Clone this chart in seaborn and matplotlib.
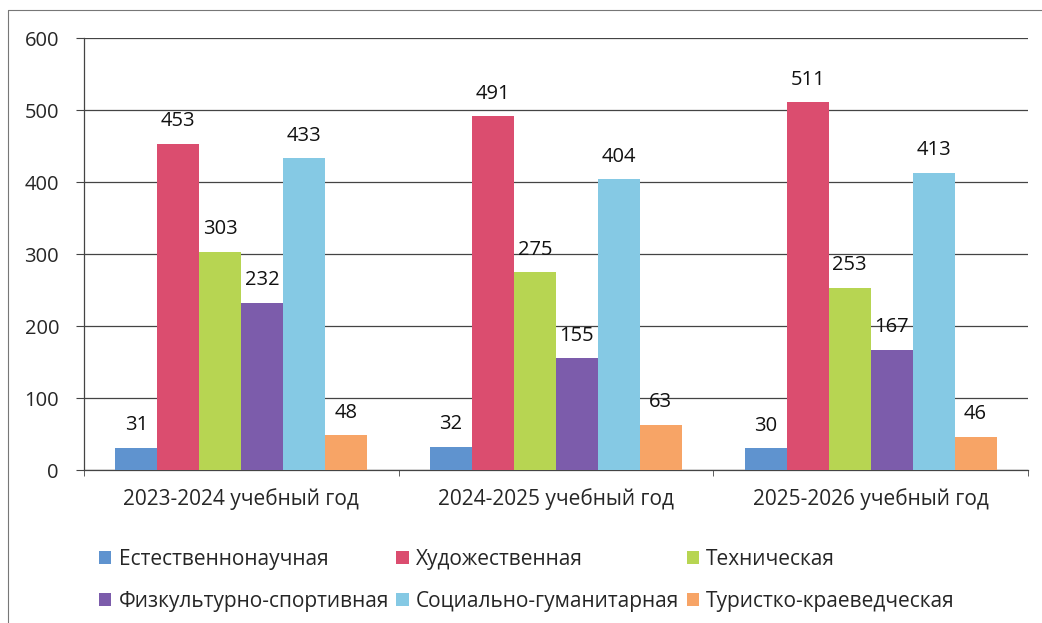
import seaborn as sns
import pandas as pd
import matplotlib.pyplot as plt
from matplotlib.patches import Patch
from matplotlib.lines import Line2D

years = ['2023-2024 учебный год', '2024-2025 учебный год', '2025-2026 учебный год']
directions = ['Естественнонаучная', 'Художественная', 'Техническая',
              'Физкультурно-спортивная', 'Социально-гуманитарная', 'Туристко-краеведческая']
estestv = [31, 32, 30]
hudozh = [453, 491, 511]
tehn = [303, 275, 253]
fizkult = [232, 155, 167]
social = [433, 404, 413]
turist = [48, 63, 46]
colors = ['#5f93cf', '#db4d6f', '#b7d552', '#7c5cab', '#85c9e4', '#f7a466']

series = [estestv, hudozh, tehn, fizkult, social, turist]
rows = []
for d, vals in zip(directions, series):
    for y, v in zip(years, vals):
        rows.append({'Год': y, 'Направление': d, 'Количество': v})
df = pd.DataFrame(rows)

sns.set_style("white")
plt.rcParams['font.family'] = ['Open Sans', 'DejaVu Sans']

fig = plt.figure(figsize=(10.42, 6.23), dpi=100)
ax = fig.add_axes([84 / 1042, 1 - 470 / 623, (1028 - 84) / 1042, (470 - 38) / 623])

sns.barplot(data=df, x='Год', y='Количество', hue='Направление', hue_order=directions,
            palette=colors, saturation=1, width=0.8, ax=ax, legend=False, zorder=3,
            linewidth=0)

for c in ax.containers:
    ax.bar_label(c, padding=9, fontsize=14.5, color='#111111')

ax.set_ylim(0, 600)
ax.set_yticks(range(0, 601, 100))
ax.set_xlim(-0.5, 2.5)
ax.yaxis.grid(True, color='#444444', linewidth=0.9, zorder=0)
ax.set_axisbelow(True)
ax.set(xlabel=None, ylabel=None)
ax.tick_params(axis='y', labelsize=14.5, length=6, color='#444444', direction='out', left=True, pad=12)
ax.tick_params(axis='x', labelsize=15, length=0, pad=13)
ax.set_xticks([-0.5, 0.5, 1.5, 2.5], minor=True)
ax.tick_params(axis='x', which='minor', length=4, color='#444444', direction='out', bottom=True)
for s in ['top', 'right']:
    ax.spines[s].set_visible(False)
for s in ['left', 'bottom']:
    ax.spines[s].set_color('#444444')
    ax.spines[s].set_linewidth(0.9)

# Легенда по строкам (3 столбца)
handles = [Patch(facecolor=c, edgecolor='none') for c in colors]
order = [0, 3, 1, 4, 2, 5]
fig.legend([handles[i] for i in order], [directions[i] for i in order],
           loc='upper left', bbox_to_anchor=(80 / 1042, 1 - 530 / 623), ncol=3,
           frameon=False, fontsize=15, handlelength=0.6, handleheight=0.6,
           handletextpad=0.35, columnspacing=0.35, labelspacing=1.0)

# Рамка области диаграммы
fig.add_artist(Line2D([8 / 1042, 8 / 1042], [0, 1 - 10 / 623], color='#777777', linewidth=0.8))
fig.add_artist(Line2D([8 / 1042, 1], [1 - 10 / 623, 1 - 10 / 623], color='#777777', linewidth=0.8))

fig.savefig('out.png', dpi=100)
